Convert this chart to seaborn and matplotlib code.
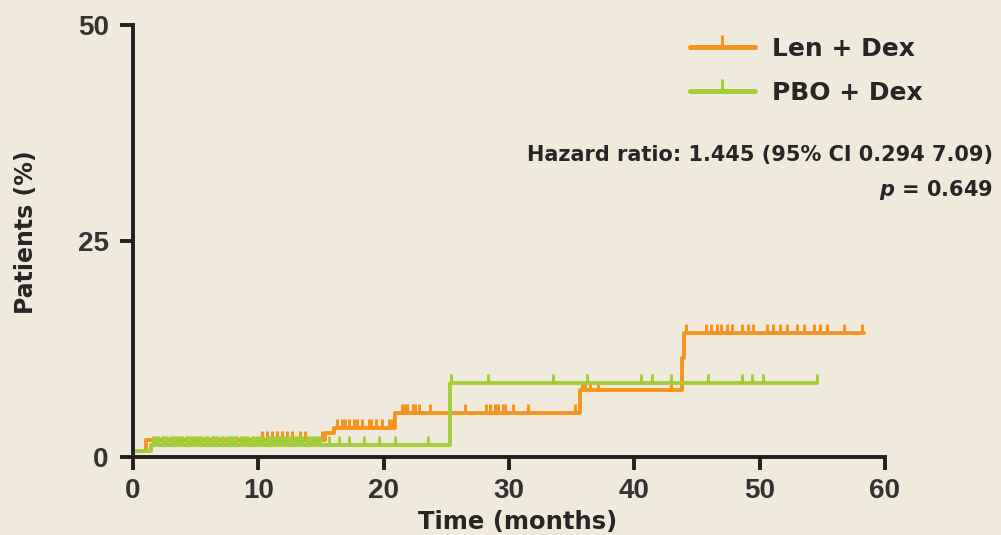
import numpy as np
import pandas as pd
import seaborn as sns
import matplotlib.pyplot as plt
from matplotlib.lines import Line2D

# Kaplan-Meier style step curves (cumulative % of patients)
len_time = [0, 1.0, 15.3, 16.0, 20.9, 35.7, 43.8, 44.0, 58.3]
len_pct = [0.7, 2.0, 2.8, 3.4, 5.1, 7.7, 11.5, 14.4, 14.4]
pbo_time = [0, 1.4, 25.3, 54.6]
pbo_pct = [0.7, 1.4, 8.6, 8.6]

# censoring marks (months)
len_cens = [10.3, 10.7, 11.1, 11.5, 11.9, 12.3, 12.7, 13.3, 13.7, 15.1,
            16.3, 16.7, 16.9, 17.2, 17.6, 17.9, 18.3, 18.8, 19.0, 19.4, 19.9, 20.4, 20.7,
            21.5, 21.7, 21.9, 22.3, 22.5, 22.8, 23.7, 26.5, 28.2, 28.5, 28.9, 29.1,
            29.5, 29.7, 30.3, 31.5, 35.3, 35.8, 36.1, 36.5, 37.1, 42.9,
            44.1, 45.7, 46.1, 46.6, 46.9, 47.4, 47.8, 48.6, 49.1, 49.5, 50.6, 51.1,
            51.6, 52.2, 53.0, 53.5, 54.3, 54.8, 55.4, 56.7, 58.2]
pbo_cens = [1.6, 1.8, 2.0, 2.3, 2.5, 2.7, 3.0, 3.2, 3.4, 3.7, 3.9, 4.2, 4.4, 4.6,
            4.9, 5.1, 5.3, 5.5, 5.8, 6.0, 6.3, 6.5, 6.7, 7.0, 7.2, 7.5, 7.7, 7.9,
            8.1, 8.3, 8.6, 8.8, 9.0, 9.2, 9.5, 9.7, 10.0, 10.2, 10.4, 10.7, 10.9,
            11.1, 11.3, 11.6, 11.8, 12.0, 12.2, 12.4, 12.6, 12.9, 13.1, 13.3, 13.5,
            13.8, 14.0, 14.2, 14.4, 14.7, 14.9, 15.6, 16.4, 17.2, 18.4, 19.6, 20.9,
            23.5, 25.4, 28.3, 33.5, 36.2, 40.5, 41.4, 42.9, 45.9, 48.6, 49.4, 50.3, 54.6]

arms = ['Len + Dex', 'PBO + Dex']
colors = {'Len + Dex': '#f7941d', 'PBO + Dex': '#a3cd39'}
bg = '#efeadb'


def step_value(t, times, vals):
    idx = np.searchsorted(times, t, side='right') - 1
    return np.asarray(vals)[idx]


curves = pd.concat([
    pd.DataFrame({'time': len_time, 'pct': len_pct, 'arm': arms[0]}),
    pd.DataFrame({'time': pbo_time, 'pct': pbo_pct, 'arm': arms[1]}),
])
cens = {
    arms[0]: (len_cens, step_value(len_cens, len_time, len_pct)),
    arms[1]: (pbo_cens, step_value(pbo_cens, pbo_time, pbo_pct)),
}

sns.set_style('ticks')
plt.rcParams['font.family'] = ['DejaVu Sans']

fig, ax = plt.subplots(figsize=(10.01, 5.35), dpi=100)
fig.patch.set_facecolor(bg)
ax.set_facecolor(bg)
fig.subplots_adjust(left=0.1329, right=0.8841, bottom=0.1458, top=0.9533)

for arm in arms:
    sns.lineplot(data=curves[curves['arm'] == arm], x='time', y='pct', color=colors[arm],
                 drawstyle='steps-post', estimator=None, sort=False, lw=2.8,
                 legend=False, ax=ax, clip_on=False)
    t, v = cens[arm]
    ax.plot(t, v, linestyle='none', marker=2, markersize=6.5, mew=2.2,
            color=colors[arm], clip_on=False)

ax.set_xlim(0, 60)
ax.set_ylim(0, 50)
ax.set_xticks([0, 10, 20, 30, 40, 50, 60])
ax.set_yticks([0, 25, 50])
sns.despine(ax=ax)
for side in ['left', 'bottom']:
    ax.spines[side].set_linewidth(2.8)
    ax.spines[side].set_color('#231f20')
ax.tick_params(length=9.4, width=2.8, color='#231f20', labelcolor='#333333',
               labelsize=20)
ax.tick_params(axis='x', pad=6)
ax.tick_params(axis='y', pad=8)
for lbl in ax.get_xticklabels() + ax.get_yticklabels():
    lbl.set_fontfamily('Liberation Sans')
    lbl.set_fontweight('bold')

ax.set_xlabel('Time (months)', fontsize=17.5, fontweight='bold')
ax.set_ylabel('Patients (%)', fontsize=17, fontweight='bold')
ax.xaxis.set_label_coords(0.511, -0.122)
ax.yaxis.set_label_coords(-0.126, 0.52)

handles = [Line2D([0], [0], color=colors[a], lw=3.6, marker=2, markersize=9, mew=2.2)
           for a in arms]
fig.legend(handles, arms, loc='upper left', bbox_to_anchor=(0.689, 0.931),
           frameon=False, prop={'size': 18, 'weight': 'bold'}, handlelength=2.6,
           handletextpad=0.7, labelspacing=0.8, borderpad=0, borderaxespad=0,
           numpoints=1)

fig.text(0.992, 1 - 155 / 535, 'Hazard ratio: 1.445 (95% CI 0.294 7.09)',
         ha='right', va='center', fontsize=15, fontweight='bold')
fig.text(0.992, 1 - 190 / 535, r'$\mathbfit{p}$ = 0.649',
         ha='right', va='center', fontsize=15, fontweight='bold')

plt.savefig('out.png', dpi=100, facecolor=bg)
plt.close()
